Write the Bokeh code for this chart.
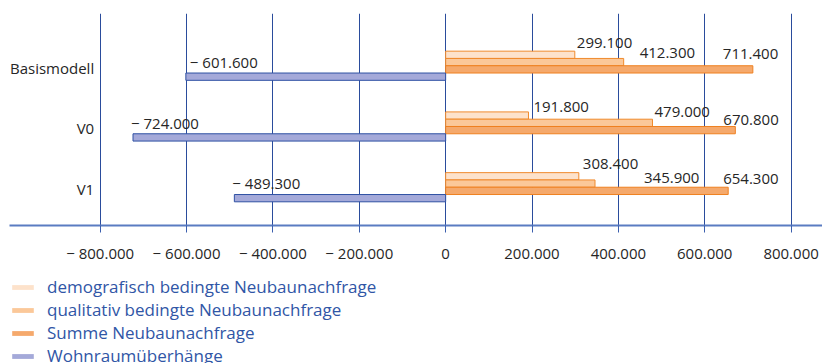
from bokeh.plotting import figure
from bokeh.layouts import column
from bokeh.models import FixedTicker, Legend, LegendItem, Range1d, ColumnDataSource
from bokeh.core.properties import value
from bokeh.embed import file_html
from bokeh.resources import INLINE

# --- data -----------------------------------------------------------------
scenarios = ["Basismodell", "V0", "V1"]
demografisch = [299100, 191800, 308400]
qualitativ = [412300, 479000, 345900]
summe = [711400, 670800, 654300]
ueberhaenge = [-601600, -724000, -489300]
x_ticks = [-800000, -600000, -400000, -200000, 0, 200000, 400000, 600000, 800000]
series_names = [
    "demografisch bedingte Neubaunachfrage",
    "qualitativ bedingte Neubaunachfrage",
    "Summe Neubaunachfrage",
    "Wohnraumüberhänge",
]

# --- styling ----------------------------------------------------------------
FONT = "Open Sans"
fills = ["#fde2cb", "#fbc899", "#f5a96c", "#a4a9d9"]
lines = ["#f08a2c", "#f08a2c", "#ef8020", "#2f51a3"]
GRID = "#2a4c9c"
TEXT = "#262626"
LEGEND_TEXT = "#3056a6"

# label nudges in screen pixels (right / down), one list per series
label_dx = [[2, 5, 4], [16, 2, 49], [-30, -12, -5], [4, -2, -2]]
label_dy = [[-12, -8.5, -12.5], [-9.5, -11, -6], [-15.5, -10, -12], [-14.5, -14, -15]]


def de_num(v):
    s = f"{abs(v):,}".replace(",", ".")
    return ("\u2212 " + s) if v < 0 else s


series = [demografisch, qualitativ, summe, ueberhaenge]
centers = [2, 1, 0]           # Basismodell on top
bar_h = 0.12
offsets = [1.5, 0.5, -0.5, -1.5]

p = figure(
    width=822, height=275,
    x_range=Range1d(-1010000, 872700),
    y_range=Range1d(-0.63, 2.86),
    output_backend="svg", toolbar_location=None,
    y_axis_location=None,
    min_border_left=9, min_border_right=0,
    min_border_top=13, min_border_bottom=50,
)
p.outline_line_color = None
p.background_fill_color = "white"
p.border_fill_color = "white"

# vertical grid
p.xgrid.ticker = FixedTicker(ticks=x_ticks)
p.xgrid.grid_line_color = GRID
p.xgrid.grid_line_width = 1
p.ygrid.grid_line_color = None

# x axis
ax = p.xaxis[0]
ax.ticker = FixedTicker(ticks=x_ticks)
ax.major_label_overrides = {t: de_num(t) for t in x_ticks}
ax.axis_line_color = "#5a7cc2"
ax.axis_line_width = 2
ax.major_tick_line_color = "#3b5fae"
ax.major_tick_in = 0
ax.major_tick_out = 7
ax.minor_tick_line_color = None
ax.major_label_text_font = FONT
ax.major_label_text_font_size = "15px"
ax.major_label_text_color = TEXT
ax.major_label_standoff = 10

# bars and value labels
for k, vals in enumerate(series):
    ys = [c + offsets[k] * bar_h for c in centers]
    src = ColumnDataSource(dict(
        y=ys, right=vals,
        label=[de_num(v) for v in vals],
        dx=label_dx[k], dy=label_dy[k],
    ))
    p.hbar(y="y", left=0, right="right", height=bar_h, source=src,
           fill_color=fills[k], line_color=lines[k], line_width=1)
    p.text(x="right", y="y", text="label", source=src,
           x_offset="dx", y_offset="dy",
           text_font=value(FONT), text_font_size="15px", text_color=TEXT,
           text_align="left", text_baseline="middle")

# scenario names, right-aligned just left of the outermost grid line
cat_src = ColumnDataSource(dict(x=[x_ticks[0]] * 3, y=centers, name=scenarios))
p.text(x="x", y="y", text="name", source=cat_src, x_offset=-6, y_offset=2,
       text_font=value(FONT), text_font_size="15px", text_color=TEXT,
       text_align="right", text_baseline="middle")

# --- legend strip below the chart -------------------------------------------
# The strip's own ranges sit away from the data, so only the legend shows.
lg = figure(
    width=822, height=88,
    x_range=Range1d(0, 1), y_range=Range1d(10, 11),
    output_backend="svg", toolbar_location=None,
    x_axis_location=None, y_axis_location=None,
    min_border_left=9, min_border_right=0,
    min_border_top=0, min_border_bottom=0,
)
lg.outline_line_color = None
lg.xgrid.grid_line_color = None
lg.ygrid.grid_line_color = None

items = []
for k, name in enumerate(series_names):
    r = lg.hbar(y=centers, right=series[k], height=bar_h,
                fill_color=fills[k], line_alpha=0)
    items.append(LegendItem(label=name, renderers=[r]))

legend = Legend(
    items=items, location="top_left", orientation="vertical",
    glyph_width=27, glyph_height=6, label_standoff=11,
    label_text_font=FONT, label_text_font_size="17px",
    label_text_color=LEGEND_TEXT, label_height=23,
    spacing=0, padding=0, margin=0,
    border_line_alpha=0, background_fill_alpha=0,
)
lg.add_layout(legend, "center")

open("out.html", "w").write(file_html(column(p, lg, spacing=0), INLINE))
